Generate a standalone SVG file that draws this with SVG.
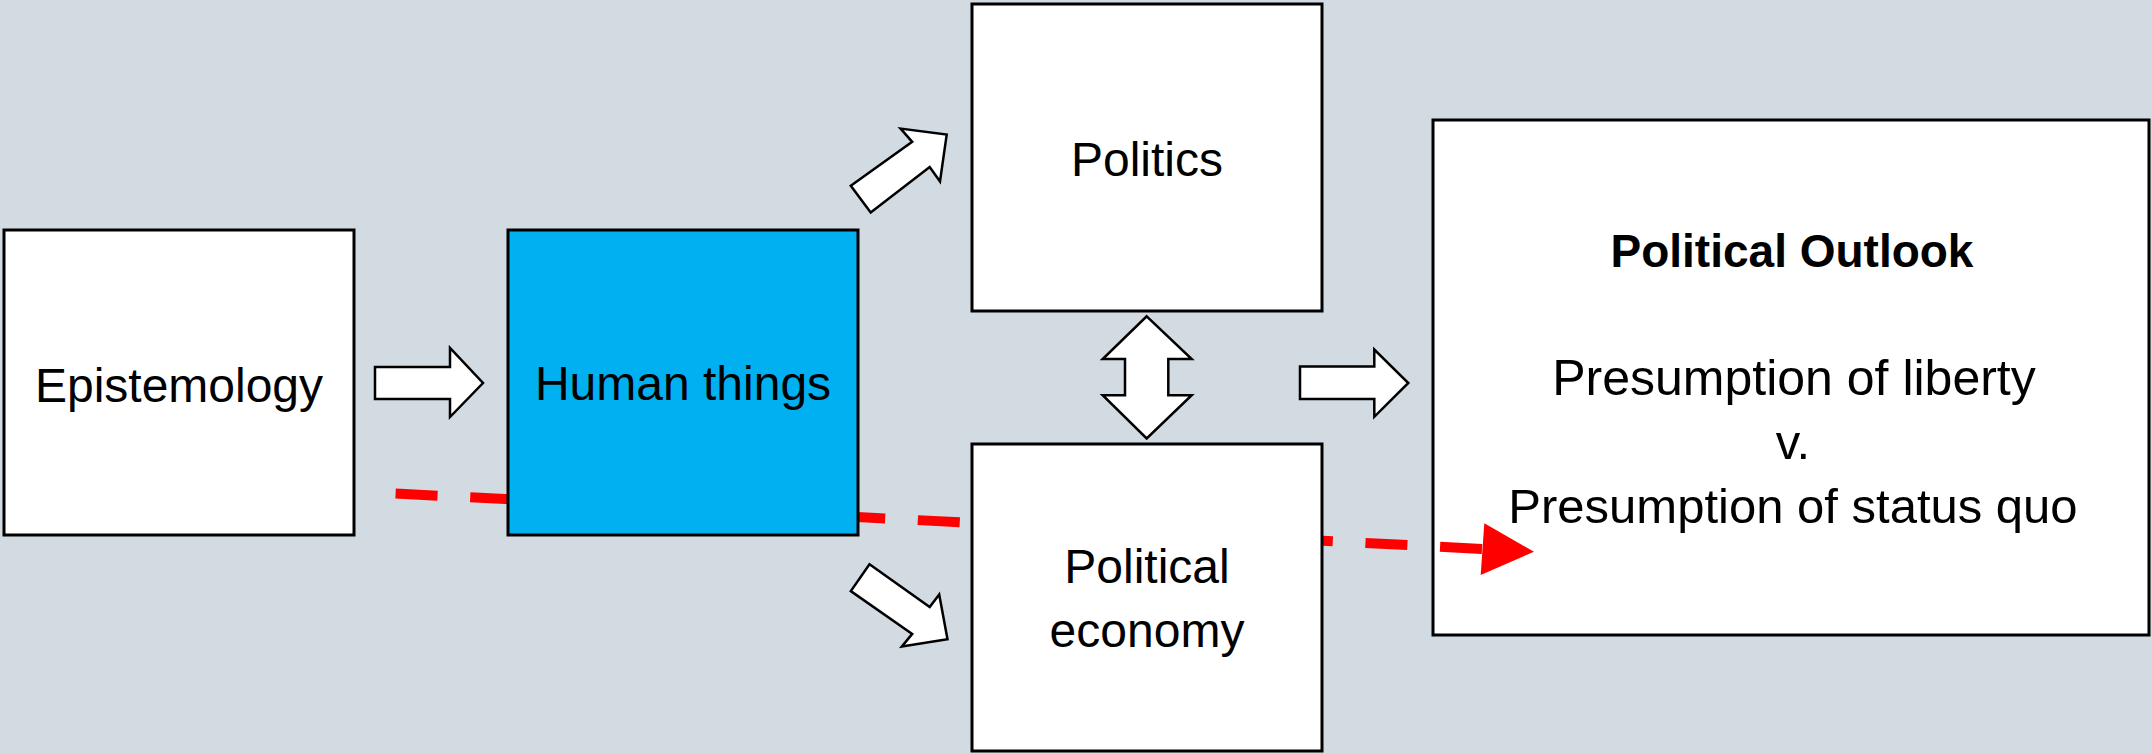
<svg xmlns="http://www.w3.org/2000/svg" width="2152" height="754" viewBox="0 0 2152 754">
  <style>
    .box { fill: #FFFFFF; stroke: #000000; stroke-width: 3; }
    .blue { fill: #00B0F0; }
    .label { font-family: "Liberation Sans", Arial, sans-serif; font-size: 48px; fill: #000000; text-anchor: middle; }
    .bold { font-weight: bold; font-size: 46px; }
    .arrow { fill: #FFFFFF; stroke: #000000; stroke-width: 2.5; stroke-linejoin: miter; }
    .dash { fill: none; stroke: #FF0000; stroke-width: 10; stroke-dasharray: 42 32.7; }
  </style>

  <!-- backdrop -->
  <rect x="0" y="0" width="2152" height="754" fill="#D2DAE2"/>

  <!-- outlook box sits under the red trend line -->
  <g id="node-outlook">
    <rect class="box" x="1433" y="120" width="716" height="515"/>
    <text class="label bold" x="1792" y="267">Political Outlook</text>
    <text class="label" x="1794" y="395" style="font-size:50px">Presumption of liberty</text>
    <text class="label" x="1793" y="459" style="font-size:49px">v.</text>
    <text class="label" x="1793" y="523" style="font-size:49px">Presumption of status quo</text>
  </g>

  <!-- red dashed trend line, passing beneath the middle boxes -->
  <g id="trend">
    <line class="dash" x1="395.6" y1="493.5" x2="1484" y2="549"/>
    <polygon points="1484.3,523.3 1480.7,575 1534,551.7" fill="#FF0000"/>
  </g>

  <g id="node-epistemology">
    <rect class="box" x="4" y="230" width="350" height="305"/>
    <text class="label" x="179" y="402">Epistemology</text>
  </g>

  <g id="node-human-things">
    <rect class="box blue" x="508" y="230" width="350" height="305"/>
    <text class="label" x="683" y="400">Human things</text>
  </g>

  <g id="node-politics">
    <rect class="box" x="972" y="4" width="350" height="307"/>
    <text class="label" x="1147" y="176">Politics</text>
  </g>

  <g id="node-political-economy">
    <rect class="box" x="972" y="444" width="350" height="307"/>
    <text class="label" x="1147" y="583">Political</text>
    <text class="label" x="1147" y="647">economy</text>
  </g>

  <!-- block arrows -->
  <g id="connectors">
    <polygon class="arrow" points="375,367 450,367 450,348 483,383 450,417 450,399 375,399"/>
    <polygon class="arrow" points="850.8,185.7 912.2,141.8 900.6,128.6 946.7,134.6 940,181.4 929.7,167.1 870.7,212.5"/>
    <polygon class="arrow" points="869.5,564.3 929.7,607.1 939.2,594.6 947.5,639.3 901.9,646.4 912.2,633.9 850.8,591.1"/>
    <polygon class="arrow" points="1146.7,316.3 1191.7,359.1 1168.3,359.1 1168.3,395.2 1191.7,395.2 1146.7,438.5 1102.7,395.2 1125,395.2 1125,359.1 1102.7,359.1"/>
    <polygon class="arrow" points="1300,366.5 1374.3,366.5 1374.3,349.5 1408.3,383 1374.3,416.8 1374.3,399 1300,399"/>
  </g>
</svg>
